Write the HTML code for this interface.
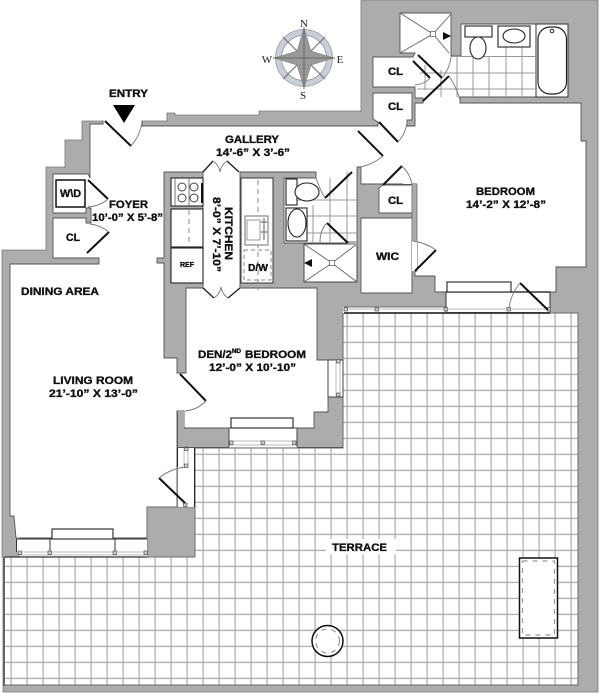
<!DOCTYPE html>
<html><head><meta charset="utf-8"><style>
html,body{margin:0;padding:0;background:#fff;width:600px;height:693px;overflow:hidden}
svg{display:block}
text{font-family:"Liberation Sans",sans-serif;font-weight:bold;fill:#111;stroke:#111;stroke-width:.35}
.d{stroke:#111;stroke-width:2;fill:none}
.a{stroke:#777;stroke-width:.9;fill:none}
.k{stroke:#222;stroke-width:1.1;fill:#fff}
.g{stroke:#999;stroke-width:1;fill:none}
.q{fill:#ccc;stroke:#555;stroke-width:.7}
.c{font-family:"Liberation Serif",serif;font-weight:normal;stroke:none;fill:#222;font-size:11px}
</style></head><body>
<svg width="600" height="693" viewBox="0 0 600 693" xmlns="http://www.w3.org/2000/svg">
<defs>
<pattern id="grid" x="10.500" y="5.800" width="16" height="16" patternUnits="userSpaceOnUse">
<path d="M.5 0V16M0 .5H16" stroke="#a3a3a3" stroke-width="1.2" fill="none"/>
</pattern>
</defs>
<polygon fill="#acacac" stroke="#777" stroke-width=".8" points="361,0 598,0 598,692 3,692 3,557 2,557 2,250 46,250 46,167 65,167 65,140 82,140 82,121 142,121 167,121 167,113 175,113 175,115 259,115 259,111 361,111"/>
<path fill="#fff" fill-rule="evenodd" stroke="#555" stroke-width=".9" d="M10,264 L99,264 99,258 53,258 53,218 86,218 86,223 91,223 91,208 86,208 86,213 53,213 53,174 88,174 90,178 90,124 103,124 103,121 142,121 142,126 378,126 378,122 373,119 373,93 412,93 412,120 407,120 407,126 415,126 415,103 423,103 423,98 415,98 415,87 373,87 373,57 413,57 415,53 400,53 400,13 451,13 451,56 461,56 461,24 568,24 568,97 460,97 460,103 581,103 581,141 586,141 586,267 556,267 556,292 435,292 435,276 415,276 415,271 417,271 417,241 412,241 412,293 361,293 361,218 412,218 412,213 379,213 379,188 383,185 412,185 417,184 412,184 361,184 361,167 357,167 357,243 284,243 284,178 316,178 316,172 240,172 240,288 317,288 317,360 328,360 328,412 314,412 314,428 184,428 184,411 177,411 177,507 147,507 147,538 16,538 14,516 10,516 Z M203,172 L164,172 164,258 157,258 157,263 164,263 164,358 177,358 177,373 186,373 186,288 203,288 Z"/>
<rect x="103.500" y="118" width="38" height="10" fill="#fff"/>
<rect x="412" y="184" width="5" height="57" fill="#acacac"/>
<path d="M412,184V241M417,184V241" class="a"/>
<rect x="403" y="166" width="9" height="18" fill="#fff"/>
<rect x="412" y="241" width="5" height="30" fill="#fff"/>
<!-- terrace -->
<polygon fill="#fff" points="4,557 195,557 195,448 343,448 343,313 578,313 578,685 4,685"/>
<polygon fill="url(#grid)" stroke="#666" stroke-width="1" points="4,557 195,557 195,448 343,448 343,313 578,313 578,685 4,685"/>
<path d="M4,557V686" stroke="#666" stroke-width="2"/>
<rect x="326" y="539" width="70" height="15" fill="#fff"/>
<!-- wall block bottom -->
<rect x="147" y="507" width="48" height="50" fill="#acacac" stroke="#666" stroke-width=".8"/>
<!-- living window -->
<rect x="17" y="539" width="130" height="18" fill="#fff"/>
<rect x="10" y="538" width="10" height="19" fill="#acacac"/>
<rect x="16" y="539" width="4" height="13" fill="#fff"/>
<path d="M16,539H147M16.500,539V552" stroke="#333" stroke-width="1"/>
<path d="M5,557H147" stroke="#333" stroke-width="1.2"/>
<path d="M20,552H146M20,555H146" stroke="#bbb" stroke-width="1"/>
<rect x="52" y="529" width="61" height="10" class="k"/>
<path d="M50,539V551M115,539V551" stroke="#333" stroke-width="1"/>
<rect x="18" y="551" width="3.500" height="3.500" class="q"/><rect x="48" y="551" width="3.500" height="3.500" class="q"/><rect x="113" y="551" width="3.500" height="3.500" class="q"/><rect x="144" y="551" width="3.500" height="3.500" class="q"/>
<!-- den lower wall -->
<polygon fill="#acacac" points="178,429 229,429 229,447.500 178,447.500"/>
<rect x="177.500" y="411" width="6.500" height="19" fill="#acacac"/>
<path d="M177.500,411V448" stroke="#555" stroke-width=".9"/>
<rect x="178" y="448" width="16" height="59" fill="#fff"/>
<path d="M177.500,448V467M194.500,448V507" stroke="#222" stroke-width="1"/>
<path d="M184,448V466M188,448V466" stroke="#bbb" stroke-width="1"/>
<rect x="184.500" y="447" width="3.500" height="3.500" class="q"/><rect x="184.500" y="464" width="3.500" height="3.500" class="q"/><rect x="183.500" y="503" width="3.500" height="3.500" class="q"/>
<path d="M178,447.500H343" stroke="#555" stroke-width="1"/>
<rect x="229" y="428" width="68" height="19.500" fill="#fff"/>
<path d="M229,428V447M297,428V447M229,428H297" stroke="#444" stroke-width="1"/>
<path d="M230,441H296M230,445H296" stroke="#bbb" stroke-width="1"/>
<rect x="231" y="418" width="62" height="10" class="k"/>
<rect x="229.500" y="441" width="3.500" height="3.500" class="q"/><rect x="261" y="441" width="3.500" height="3.500" class="q"/><rect x="292.500" y="441" width="3.500" height="3.500" class="q"/>
<!-- den side window -->
<rect x="328" y="360" width="15" height="37" fill="#fff"/>
<path d="M328,360V397M343,360V397M328,360H343M328,397H343" stroke="#444" stroke-width="1"/>
<path d="M336,360V397M340,360V397" stroke="#bbb" stroke-width="1"/>
<rect x="336.500" y="359.500" width="3.500" height="3.500" class="q"/><rect x="336.500" y="393" width="3.500" height="3.500" class="q"/>
<!-- bedroom window strip -->
<rect x="343" y="307" width="103" height="6" fill="#fff"/>
<path d="M344,307H446" stroke="#555" stroke-width=".8"/>
<rect x="446" y="292" width="104" height="20" fill="#fff"/>
<path d="M446,292H550" stroke="#111" stroke-width="1.2"/>
<path d="M446,292V312M550,292V312" stroke="#333" stroke-width="1"/>
<path d="M344,313H550" stroke="#111" stroke-width="1.400"/>
<path d="M344,309H549" stroke="#bbb" stroke-width="1"/>
<rect x="447" y="282" width="64" height="10" class="k"/>
<rect x="344" y="307.500" width="3.500" height="3.500" class="q"/><rect x="375" y="307.500" width="3.500" height="3.500" class="q"/><rect x="444" y="307.500" width="3.500" height="3.500" class="q"/><rect x="507" y="307.500" width="3.500" height="3.500" class="q"/><rect x="547" y="307.500" width="3.500" height="3.500" class="q"/>
<!-- tile bath 1 -->
<path class="g" d="M473,57V97M489,57V97M506,47V97M522,47V97M425,65V90M441,70V97M457,57V97M451,56.500H535M420,73H535M417,89H535"/>
<rect x="536" y="24" width="32" height="73" fill="#fff" stroke="#333" stroke-width="1"/>
<rect x="538" y="27" width="28.500" height="67" rx="12" fill="#fff" stroke="#222" stroke-width="1.200"/>
<circle cx="552" cy="31" r="1.800" fill="#fff" stroke="#222"/>
<rect x="465" y="26" width="27" height="11" class="k"/>
<ellipse cx="478" cy="48" rx="8" ry="11" class="k"/>
<rect x="498" y="26" width="32" height="21" class="k" stroke-width="1.400"/>
<ellipse cx="514" cy="36" rx="11" ry="7" class="k"/>
<!-- shower 1 -->
<path d="M400,13L433,34 451,14M400,53L433,34 449,53" stroke="#666" stroke-width=".9" fill="none"/>
<rect x="430.500" y="31.500" width="5" height="5" fill="#fff" stroke="#555" stroke-width=".7"/>
<polygon points="443,32 443,40 451,36" fill="#111"/>
<!-- bath 2 -->
<path class="g" d="M313,205V243M330,178V243M347,172V243M297,200H357M307,216H357M307,233H357"/>
<rect x="286" y="179" width="11" height="26" class="k"/>
<ellipse cx="307" cy="192" rx="12" ry="9" class="k"/>
<rect x="286" y="208" width="21" height="33" class="k" stroke-width="1.400"/>
<ellipse cx="297" cy="223" rx="9" ry="14" class="k"/>
<rect x="304" y="244" width="53" height="38" fill="#fff" stroke="#444" stroke-width="1"/>
<path d="M304,244L332,263 357,244M304,282L332,263 357,282" stroke="#666" stroke-width=".9" fill="none"/>
<rect x="329.500" y="260.500" width="5" height="5" fill="#fff" stroke="#555" stroke-width=".7"/>
<polygon points="312,259 312,267 304,263" fill="#111"/>
<rect x="347" y="241" width="10" height="4" fill="#acacac"/>
<!-- kitchen -->
<rect x="171" y="178" width="32" height="28" class="k"/>
<path d="M175,178V206M189,178V206" stroke="#666" stroke-width=".9"/>
<circle cx="182" cy="187" r="4" fill="#fff" stroke="#444"/><circle cx="194" cy="187" r="4" fill="#fff" stroke="#444"/><circle cx="182" cy="198" r="4" fill="#fff" stroke="#444"/><circle cx="194" cy="198" r="4" fill="#fff" stroke="#444"/>
<path d="M202,183V203" stroke="#111" stroke-width="2"/>
<rect x="171" y="209" width="32" height="38" class="k"/>
<path d="M189,210V247" stroke="#888" stroke-dasharray="5 4"/>
<rect x="171" y="248" width="32" height="35" class="k"/>
<rect x="241" y="178" width="32" height="105" fill="#fff" stroke="#333" stroke-width="1"/>
<path d="M258,180V290" stroke="#888" stroke-dasharray="5 4"/>
<rect x="245" y="216" width="23" height="29" fill="#fff" stroke="#888" stroke-width="1.200"/>
<rect x="247" y="220" width="13" height="20" fill="#fff" stroke="#999"/>
<path d="M261,222H267M264,218V240M261,232H267" stroke="#888" stroke-width="1.400"/>
<rect x="244" y="250" width="27" height="30" fill="none" stroke="#888" stroke-dasharray="4 3"/>
<!-- kitchen bifold doors -->
<polygon points="203,172 213,161 227,161 239,172" fill="#fff"/>
<polygon points="203,288 213,298 228,298 240,288" fill="#fff"/>
<path d="M203,172L213,161M239,172L227,161M203,288L214,298M240,288L228,298" stroke="#222" stroke-width="1.400" fill="none"/>
<path d="M213,161Q219,165 220,172Q221,165 227,161M214,298Q220,294 221,287Q222,294 228,298" class="a"/>
<!-- doors -->
<path class="d" d="M105,121L131,146M88,180L108,199M87,253L109,232M358,131L383,156M325,198L352,172M327,223L348,243M379,122L398,142M423,101L449,76M418,55L442,78M413,61L430,78M383,185L402,166M415,271L436,250M520,283L548,310M180,374L206,401M185,503L159,478"/>
<path class="a" d="M131,146Q140,136 142,122M108,199Q100,206 88,207M109,232Q100,225 90,224M383,156Q372,165 360,167M316,178Q320,190 325,198M327,223Q320,230 320,242M398,142Q406,133 407,122M449,76Q456,86 460,100M442,78Q450,68 451,57M430,78Q425,84 415,85M402,166Q410,174 412,184M436,250Q426,243 413,241M520,283Q511,294 509,308M206,401Q197,410 185,411M159,478Q170,469 185,467"/>
<!-- entry marker -->
<polygon points="113,105 135,105 124,123" fill="#000"/>
<!-- compass -->
<circle cx="304" cy="58" r="25.500" fill="none" stroke="#c9cedb" stroke-width="6"/>
<circle cx="304" cy="58" r="28.500" fill="none" stroke="#999" stroke-width=".8"/>
<circle cx="304" cy="58" r="22.500" fill="none" stroke="#999" stroke-width=".8"/>
<path d="M283,37L325,79M325,37L283,79" stroke="#777" stroke-width="1.200"/>
<polygon fill="#999" stroke="#777" stroke-width=".5" points="304,28 311,51 334,58 311,65 304,88 297,65 274,58 297,51"/>
<path d="M304,27V89M273,58H335" stroke="#666" stroke-width="1"/>
<text class="c" x="304" y="27" text-anchor="middle">N</text>
<text class="c" x="340" y="63" text-anchor="middle">E</text>
<text class="c" x="267" y="63" text-anchor="middle">W</text>
<text class="c" x="303" y="99" text-anchor="middle">S</text>
<!-- furniture -->
<rect x="519.500" y="558" width="38" height="80" fill="#fff" stroke="#111" stroke-width="1.500"/>
<rect x="522.500" y="561" width="32" height="74" fill="none" stroke="#999" stroke-width="1.200" stroke-dasharray="5 5"/>
<circle cx="327.500" cy="641" r="15.500" fill="#fff" stroke="#111" stroke-width="1.500"/>
<circle cx="327.500" cy="641" r="12" fill="none" stroke="#999" stroke-width="1.200" stroke-dasharray="5 5"/>
<!-- labels -->
<rect x="56" y="180" width="29" height="27" fill="#fff" stroke="#111" stroke-width="1.500"/>
<g font-size="11">
<text x="109" y="97" textLength="39" lengthAdjust="spacingAndGlyphs">ENTRY</text>
<text x="225" y="143" textLength="54" lengthAdjust="spacingAndGlyphs">GALLERY</text>
<text x="216" y="156" textLength="74" lengthAdjust="spacingAndGlyphs">14’-6” X 3’-6”</text>
<text x="109" y="208" textLength="39" lengthAdjust="spacingAndGlyphs">FOYER</text>
<text x="92" y="221" textLength="71" lengthAdjust="spacingAndGlyphs">10’-0” X 5’-8”</text>
<text x="60" y="197" textLength="21" lengthAdjust="spacingAndGlyphs">W\D</text>
<text x="66" y="241" textLength="14" lengthAdjust="spacingAndGlyphs">CL</text>
<text x="21" y="295" textLength="78" lengthAdjust="spacingAndGlyphs">DINING AREA</text>
<text x="248" y="271" textLength="20" lengthAdjust="spacingAndGlyphs" font-size="10">D/W</text>
<text x="180" y="267" textLength="14" lengthAdjust="spacingAndGlyphs" font-size="7">REF</text>
<text transform="translate(225,207) rotate(90)" textLength="53" lengthAdjust="spacingAndGlyphs">KITCHEN</text>
<text transform="translate(213,197) rotate(90)" textLength="75" lengthAdjust="spacingAndGlyphs">8’-0” X 7’-10”</text>
<text x="53" y="384" textLength="80" lengthAdjust="spacingAndGlyphs">LIVING ROOM</text>
<text x="49" y="397" textLength="89" lengthAdjust="spacingAndGlyphs">21’-10” X 13’-0”</text>
<text x="198" y="358" textLength="34" lengthAdjust="spacingAndGlyphs">DEN/2</text>
<text x="232" y="353" font-size="6" textLength="9" lengthAdjust="spacingAndGlyphs">ND</text>
<text x="245" y="358" textLength="61" lengthAdjust="spacingAndGlyphs">BEDROOM</text>
<text x="209" y="371" textLength="87" lengthAdjust="spacingAndGlyphs">12’-0” X 10’-10”</text>
<text x="332" y="551" textLength="55" lengthAdjust="spacingAndGlyphs">TERRACE</text>
<text x="388" y="75" textLength="15" lengthAdjust="spacingAndGlyphs">CL</text>
<text x="388" y="110" textLength="15" lengthAdjust="spacingAndGlyphs">CL</text>
<text x="388" y="204" textLength="15" lengthAdjust="spacingAndGlyphs">CL</text>
<text x="376" y="260" textLength="23" lengthAdjust="spacingAndGlyphs">WIC</text>
<text x="476" y="195" textLength="59" lengthAdjust="spacingAndGlyphs">BEDROOM</text>
<text x="466" y="208" textLength="80" lengthAdjust="spacingAndGlyphs">14’-2” X 12’-8”</text>
</g>
</svg>
</body></html>
